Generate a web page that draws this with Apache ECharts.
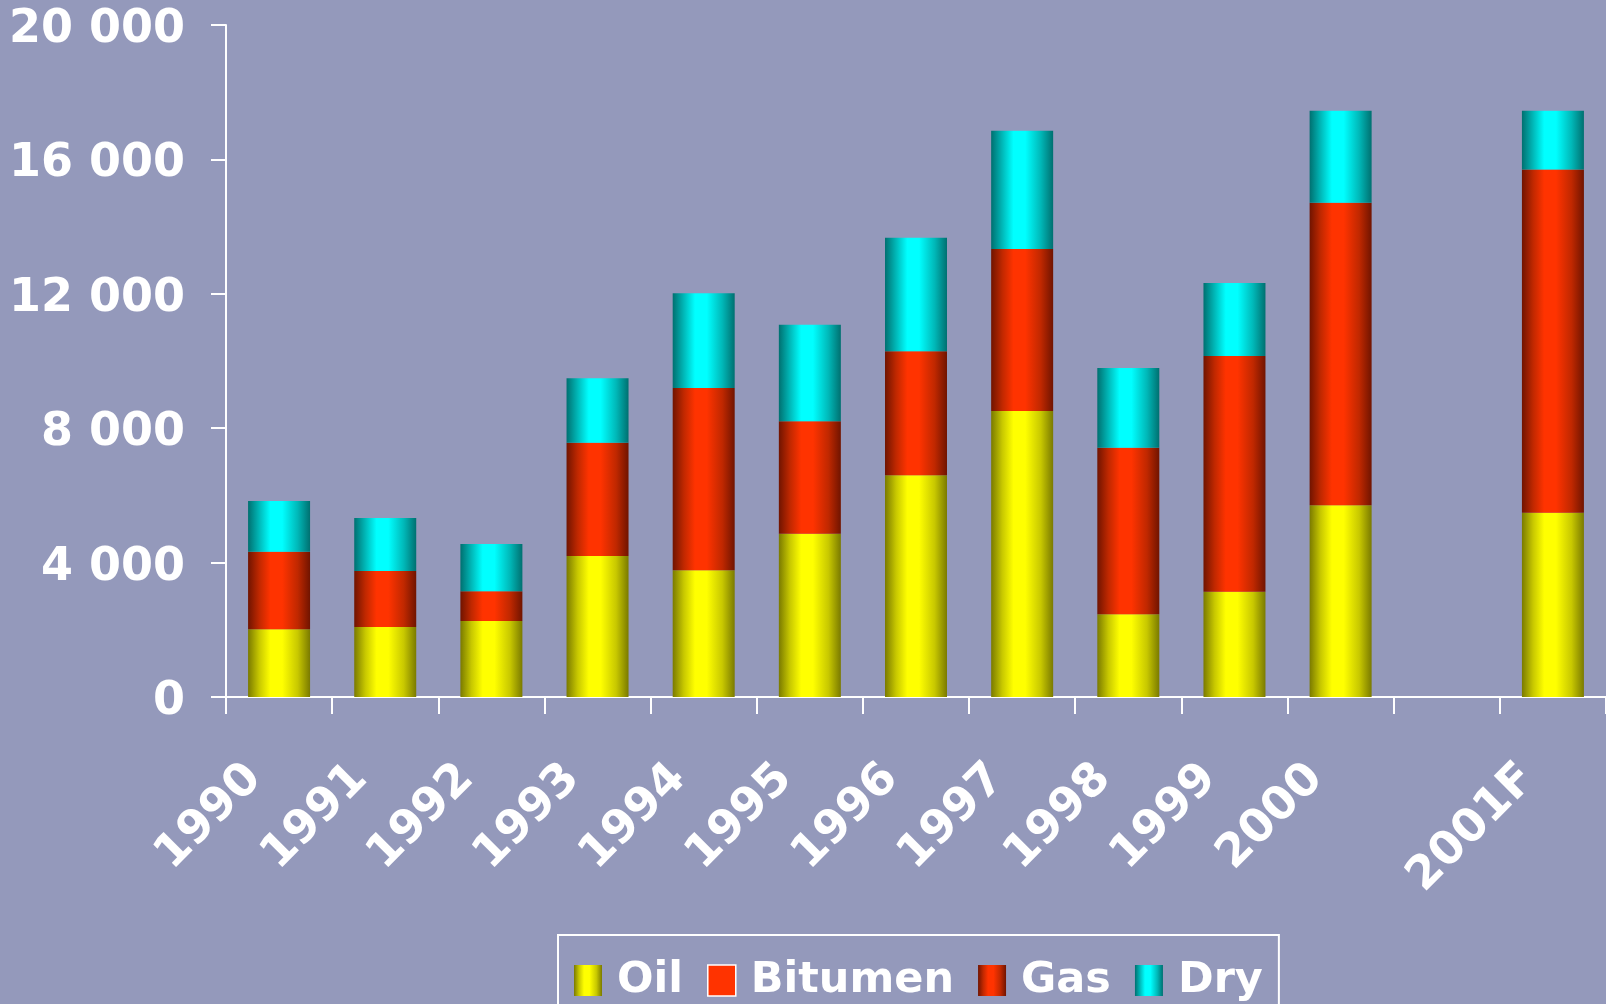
<!DOCTYPE html>
<html>
<head>
<meta charset="utf-8">
<title>Wells drilled</title>
<script src="https://cdn.jsdelivr.net/npm/echarts@6/dist/echarts.min.js"></script>
<style>
  html, body { margin: 0; padding: 0; background: #9499bb; }
  #chart { width: 1606px; height: 1004px; }
</style>
</head>
<body>
<div id="chart"></div>
<script>
const years = ['1990', '1991', '1992', '1993', '1994', '1995', '1996', '1997', '1998', '1999', '2000', '', '2001F']
const oil = [2020, 2080, 2260, 4200, 3770, 4860, 6600, 8510, 2460, 3130, 5710, '-', 5480]
const bitumen = [0, 0, 0, 0, 0, 0, 0, 0, 0, 0, 0, '-', 0]
const gas = [2300, 1670, 890, 3370, 5430, 3350, 3690, 4820, 4960, 7020, 9000, '-', 10220]
const dry = [1510, 1580, 1400, 1920, 2820, 2870, 3380, 3520, 2370, 2170, 2740, '-', 1750]

function tube (dark, mid, bright) {
  return {
    type: 'linear', x: 0, y: 0, x2: 1, y2: 0,
    colorStops: [
      { offset: 0, color: dark },
      { offset: 0.18, color: mid },
      { offset: 0.36, color: bright },
      { offset: 0.55, color: bright },
      { offset: 0.8, color: mid },
      { offset: 1, color: dark }
    ]
  }
}

const font = 'DejaVu Sans'
const chart = echarts.init(document.getElementById('chart'))

chart.setOption({
  backgroundColor: '#9499bb',
  animation: false,
  grid: { left: 226, right: -8, top: 25, bottom: 307 },
  legend: {
    left: 558,
    top: 935,
    padding: [24, 16, 40, 16],
    borderColor: '#ffffff',
    borderWidth: 2,
    itemGap: 24,
    itemWidth: 28,
    itemHeight: 31,
    icon: 'rect',
    selectedMode: false,
    textStyle: {
      color: '#ffffff',
      fontFamily: font,
      fontWeight: 'bold',
      fontSize: 43,
      padding: [0, 0, 0, 10]
    },
    data: [
      'Oil',
      { name: 'Bitumen', itemStyle: { borderColor: '#ffffff', borderWidth: 1.5 } },
      'Gas',
      'Dry'
    ]
  },
  xAxis: {
    type: 'category',
    data: years,
    axisLine: { lineStyle: { color: '#ffffff', width: 2 } },
    axisTick: { show: true, interval: 0, length: 17, lineStyle: { color: '#ffffff', width: 2 } },
    axisLabel: {
      interval: 0,
      rotate: 45,
      margin: 50,
      padding: [0, 35, 0, 0],
      color: '#ffffff',
      fontFamily: font,
      fontWeight: 'bold',
      fontSize: 46
    }
  },
  yAxis: {
    type: 'value',
    min: 0,
    max: 20000,
    interval: 4000,
    splitLine: { show: false },
    axisLine: { show: true, lineStyle: { color: '#ffffff', width: 2 } },
    axisTick: { show: true, length: 15, lineStyle: { color: '#ffffff', width: 2 } },
    axisLabel: {
      margin: 41,
      verticalAlign: 'top',
      lineHeight: 10,
      color: '#ffffff',
      fontFamily: font,
      fontWeight: 'bold',
      fontSize: 46,
      formatter: v => String(v).replace(/\B(?=(\d{3})+(?!\d))/g, ' ')
    }
  },
  series: [
    {
      name: 'Oil',
      type: 'bar',
      stack: 'wells',
      barWidth: 62,
      itemStyle: { color: tube('#7a7a00', '#c8c800', '#ffff00') },
      data: oil
    },
    {
      name: 'Bitumen',
      type: 'bar',
      stack: 'wells',
      barWidth: 62,
      itemStyle: { color: '#ff3300' },
      data: bitumen
    },
    {
      name: 'Gas',
      type: 'bar',
      stack: 'wells',
      barWidth: 62,
      itemStyle: { color: tube('#701400', '#c02800', '#ff3300') },
      data: gas
    },
    {
      name: 'Dry',
      type: 'bar',
      stack: 'wells',
      barWidth: 62,
      itemStyle: { color: tube('#007070', '#00b8b8', '#00ffff') },
      data: dry
    }
  ]
})
</script>
</body>
</html>
